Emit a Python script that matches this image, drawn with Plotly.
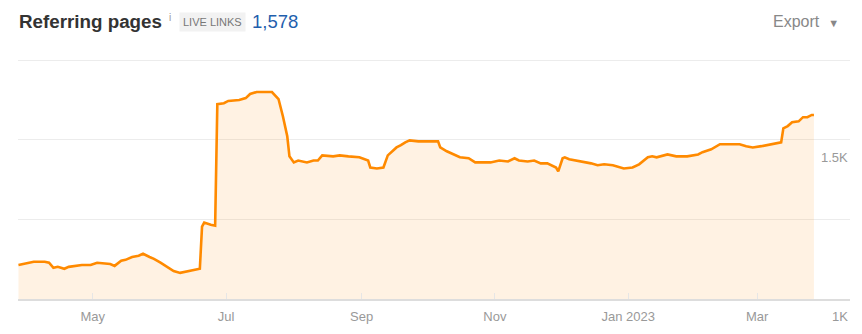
import plotly.graph_objects as go

dates = [
    "2022-03-28", "2022-04-04", "2022-04-09", "2022-04-11", "2022-04-13", "2022-04-15",
    "2022-04-18", "2022-04-20", "2022-04-26", "2022-04-30", "2022-05-03", "2022-05-09",
    "2022-05-11", "2022-05-14", "2022-05-16", "2022-05-19", "2022-05-22", "2022-05-24",
    "2022-05-27", "2022-05-29", "2022-06-01", "2022-06-04", "2022-06-07", "2022-06-10",
    "2022-06-12", "2022-06-15", "2022-06-17", "2022-06-19", "2022-06-20", "2022-06-21",
    "2022-06-24", "2022-06-26", "2022-06-27", "2022-06-30", "2022-07-02", "2022-07-07",
    "2022-07-10", "2022-07-12", "2022-07-15", "2022-07-22", "2022-07-25", "2022-07-26",
    "2022-07-27", "2022-07-29", "2022-07-30", "2022-08-01", "2022-08-03", "2022-08-07",
    "2022-08-10", "2022-08-12", "2022-08-14", "2022-08-19", "2022-08-22", "2022-08-26",
    "2022-08-31", "2022-09-04", "2022-09-05", "2022-09-08", "2022-09-11", "2022-09-13",
    "2022-09-17", "2022-09-19", "2022-09-21", "2022-09-23", "2022-09-27", "2022-10-06",
    "2022-10-07", "2022-10-10", "2022-10-13", "2022-10-16", "2022-10-20", "2022-10-23",
    "2022-10-27", "2022-10-30", "2022-11-03", "2022-11-07", "2022-11-10", "2022-11-12",
    "2022-11-16", "2022-11-19", "2022-11-22", "2022-11-25", "2022-11-29", "2022-11-30",
    "2022-12-02", "2022-12-03", "2022-12-05", "2022-12-08", "2022-12-11", "2022-12-15",
    "2022-12-18", "2022-12-21", "2022-12-25", "2022-12-28", "2022-12-30", "2023-01-03",
    "2023-01-06", "2023-01-10", "2023-01-12", "2023-01-14", "2023-01-19", "2023-01-23",
    "2023-01-28", "2023-02-02", "2023-02-04", "2023-02-08", "2023-02-12", "2023-02-18",
    "2023-02-21", "2023-02-24", "2023-02-27", "2023-03-03", "2023-03-08", "2023-03-12",
    "2023-03-13", "2023-03-15", "2023-03-17", "2023-03-20", "2023-03-22", "2023-03-24",
    "2023-03-26", "2023-03-27",
]
referring_pages = [
    1107, 1117, 1117, 1114, 1098, 1101,
    1095, 1101, 1107, 1107, 1114, 1110,
    1104, 1120, 1123, 1132, 1136, 1142,
    1132, 1126, 1114, 1101, 1088, 1082,
    1085, 1088, 1091, 1095, 1227, 1240,
    1233, 1230, 1612, 1615, 1622, 1625,
    1631, 1644, 1650, 1650, 1628, 1596,
    1574, 1511, 1448, 1429, 1435, 1429,
    1435, 1435, 1451, 1448, 1451, 1448,
    1445, 1435, 1413, 1410, 1413, 1451,
    1476, 1483, 1492, 1498, 1495, 1495,
    1476, 1464, 1454, 1445, 1442, 1429,
    1429, 1429, 1435, 1432, 1442, 1435,
    1432, 1435, 1426, 1426, 1413, 1401,
    1442, 1445, 1439, 1435, 1432, 1426,
    1420, 1423, 1420, 1413, 1410, 1413,
    1423, 1445, 1448, 1445, 1454, 1448,
    1448, 1454, 1461, 1470, 1486, 1486,
    1486, 1480, 1476, 1480, 1486, 1492,
    1536, 1543, 1555, 1558, 1571, 1571,
    1578, 1578,
]

x_tick_vals = ["2022-05-01", "2022-07-01", "2022-09-01", "2022-11-01", "2023-01-01", "2023-03-01"]
x_tick_text = ["May", "Jul", "Sep", "Nov", "Jan 2023", "Mar"]
y_grid_vals = [1000, 1250, 1500, 1750]
y_label_vals = [1000, 1500]
y_label_text = ["1K", "1.5K"]

FONT = "Liberation Sans, Arial, sans-serif"

fig = go.Figure()
fig.add_trace(go.Scatter(
    x=dates, y=referring_pages, mode="lines",
    line=dict(color="#ff8a00", width=2.6, shape="linear"),
    fill="tozeroy", fillcolor="rgba(255,138,0,0.11)",
    hoverinfo="x+y", showlegend=False,
))

W, H = 862, 334
L, R, T, B = 18, 12, 57, 35

fig.update_layout(
    width=W, height=H,
    margin=dict(l=L, r=R, t=T, b=B, pad=0, autoexpand=False),
    paper_bgcolor="white", plot_bgcolor="white",
    font=dict(family=FONT, color="#999999", size=13),
    xaxis=dict(
        type="date",
        range=["2022-03-27 19:00", "2023-04-12 12:00"],
        tickvals=x_tick_vals, ticktext=x_tick_text,
        ticks="inside", ticklen=6, tickcolor="#e6e6e6", tickwidth=1,
        ticklabelstandoff=5, automargin=False,
        showgrid=False, zeroline=False,
        showline=True, linecolor="#dddddd", linewidth=1.5,
        tickfont=dict(size=13, color="#999999", family=FONT),
        fixedrange=True,
    ),
    yaxis=dict(
        range=[1000, 1760], automargin=False,
        tickvals=y_grid_vals, showticklabels=False,
        showgrid=True, gridcolor="#ececec", gridwidth=1,
        zeroline=False, showline=False, fixedrange=True,
    ),
    hovermode="x",
)

for v, t in zip(y_label_vals, y_label_text):
    fig.add_annotation(
        x=1, xref="paper", y=v, yref="y", text=t, showarrow=False,
        xanchor="right", yanchor="top", yshift=-8,
        font=dict(size=13, color="#999999", family=FONT),
    )

def px_x(p):
    return (p - L) / (W - L - R)

def px_y(p):
    return (H - B - p) / (H - T - B)

fig.add_annotation(
    x=px_x(17), y=px_y(22), xref="paper", yref="paper", xanchor="left", yanchor="middle",
    text="<b>Referring pages</b>", showarrow=False,
    font=dict(size=18.8, color="#333333", family=FONT),
)
fig.add_annotation(
    x=px_x(167), y=px_y(17), xref="paper", yref="paper", xanchor="left", yanchor="middle",
    text="i", showarrow=False, font=dict(size=10, color="#999999", family=FONT),
)
fig.add_annotation(
    x=px_x(179), y=px_y(22), xref="paper", yref="paper", xanchor="left", yanchor="middle",
    text="LIVE LINKS", showarrow=False, bgcolor="#f2f2f2", borderpad=3,
    font=dict(size=11, color="#777777", family=FONT),
)
fig.add_annotation(
    x=px_x(250), y=px_y(22), xref="paper", yref="paper", xanchor="left", yanchor="middle",
    text="1,578", showarrow=False, font=dict(size=18.5, color="#1f5fad", family=FONT),
)
fig.add_annotation(
    x=px_x(841), y=px_y(22), xref="paper", yref="paper", xanchor="right", yanchor="middle",
    text="Export  <span style='font-size:11px'>▼</span>", showarrow=False,
    font=dict(size=16, color="#888888", family=FONT),
)

fig.write_html("out.html", config={"displayModeBar": False})
